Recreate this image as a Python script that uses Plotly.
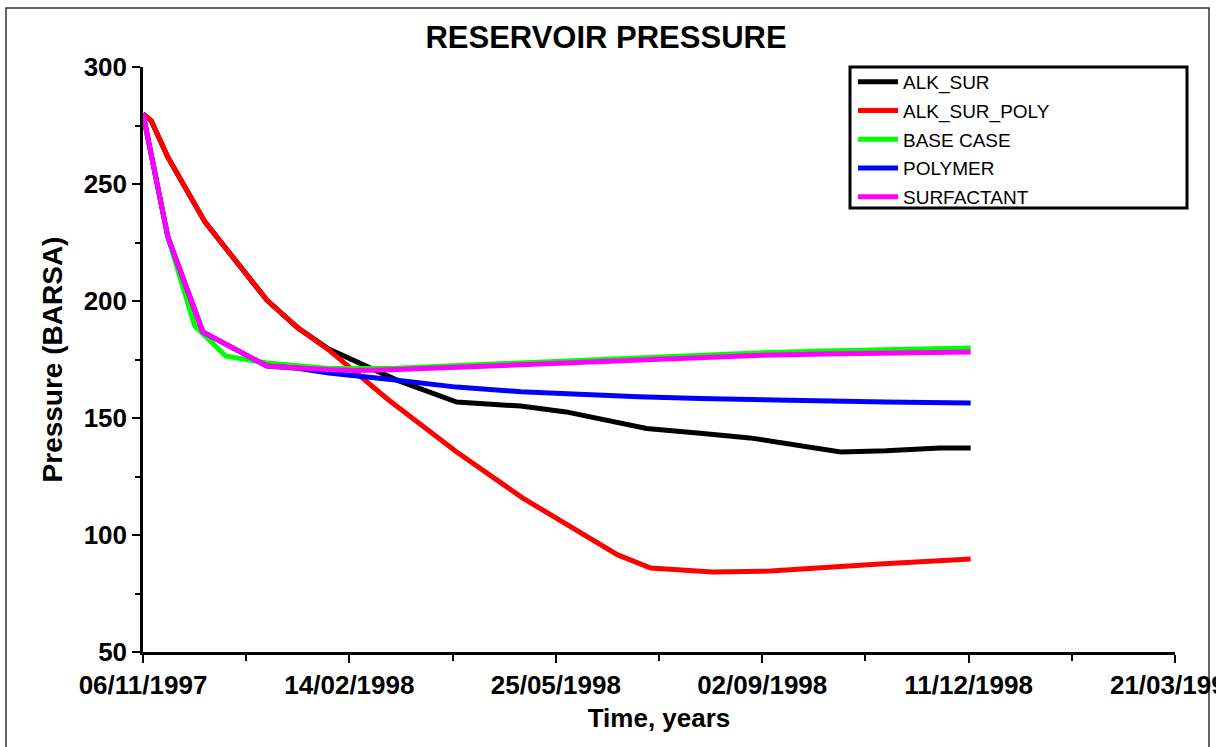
import pandas as pd
import plotly.graph_objects as go

START = "1997-11-06"

# Series: days since 06/11/1997 and pressure (BARSA)
alk_sur_days = [0, 4, 12, 30, 60, 75, 90, 100, 123, 152, 183, 205, 244, 270, 294, 338, 360, 386, 401]
alk_sur_vals = [280, 277, 261.5, 233.8, 200.4, 188.5, 179.5, 175.5, 166.2, 156.8, 155.1, 152.6, 145.5, 143.5, 141.5, 135.5, 136.0, 137.2, 137.2]

alk_sur_poly_days = [0, 4, 12, 30, 60, 75, 90, 119, 152, 184, 230, 246, 276, 304, 357, 401]
alk_sur_poly_vals = [280, 277, 261.5, 233.8, 200.4, 188.5, 179.1, 157.7, 135.5, 115.8, 91.5, 85.9, 84.2, 84.6, 87.6, 89.7]

base_case_days = [0, 12, 25, 40, 60, 90, 120, 150, 180, 210, 240, 270, 300, 330, 360, 390, 401]
base_case_vals = [280, 227.5, 189.5, 176.5, 173.5, 171.2, 171.2, 172.3, 173.5, 174.8, 176.0, 177.0, 177.9, 178.6, 179.2, 179.7, 179.9]

polymer_days = [0, 12, 29, 60, 75, 90, 120, 152, 183, 210, 240, 270, 300, 330, 360, 390, 401]
polymer_vals = [280, 227.5, 186.8, 172.2, 171.3, 169.2, 166.5, 163.2, 161.2, 160.0, 159.1, 158.3, 157.7, 157.2, 156.8, 156.5, 156.4]

surfactant_days = [0, 12, 29, 60, 90, 105, 120, 150, 180, 210, 240, 270, 300, 330, 360, 390, 401]
surfactant_vals = [280, 227.5, 186.8, 172.2, 170.6, 170.3, 170.6, 171.6, 172.8, 174.0, 175.1, 176.0, 176.8, 177.4, 177.8, 178.1, 178.2]

series_names = ["ALK_SUR", "ALK_SUR_POLY", "BASE CASE", "POLYMER", "SURFACTANT"]
series_colors = ["#000000", "#FF0000", "#00FF00", "#0000FF", "#FF00FF"]
series_days = [alk_sur_days, alk_sur_poly_days, base_case_days, polymer_days, surfactant_days]
series_vals = [alk_sur_vals, alk_sur_poly_vals, base_case_vals, polymer_vals, surfactant_vals]

x_range = ["1997-11-06", "1999-03-21"]
y_range = [50, 300]

FONT = "Liberation Sans, Arial, sans-serif"

start = pd.Timestamp(START)
fig = go.Figure()
for name, color, days, vals in zip(series_names, series_colors, series_days, series_vals):
    dates = [start + pd.Timedelta(days=d) for d in days]
    fig.add_trace(go.Scatter(x=dates, y=vals, mode="lines", name=name,
                             legendgroup=name,
                             line=dict(color=color, width=5)))

W, H = 1216, 747
L, R, T, B = 143, 1175, 67, 652
pw, ph = R - L, B - T

def px(x):
    return (x - L) / pw

def py(y):
    return (B - y) / ph

fig.update_layout(
    width=W, height=H,
    margin=dict(l=L, r=W - R, t=T, b=H - B, autoexpand=False),
    paper_bgcolor="white", plot_bgcolor="white",
    title=dict(text="RESERVOIR PRESSURE", x=606 / W, xref="container", xanchor="center",
               y=1 - 37 / H, yref="container", yanchor="middle",
               font=dict(family=FONT, size=31, color="black", weight="bold")),
    showlegend=True,
    legend=dict(x=px(853), y=py(63), xanchor="left", yanchor="top",
                bgcolor="rgba(0,0,0,0)", borderwidth=0,
                font=dict(family=FONT, size=19, color="black"),
                itemwidth=40, traceorder="grouped", tracegroupgap=1),
    xaxis=dict(type="date", range=x_range, tick0=START, dtick=100 * 86400000,
               tickformat="%d/%m/%Y", showgrid=False, zeroline=False,
               showline=True, linecolor="black", linewidth=2.5,
               ticks="outside", ticklen=8, tickwidth=2, tickcolor="black",
               ticklabeloverflow="allow",
               minor=dict(dtick=50 * 86400000, tick0=START, ticks="outside", ticklen=6, tickwidth=2, tickcolor="black", showgrid=False),
               tickfont=dict(family=FONT, size=26, color="black", weight="bold"),
               title=dict(text="Time, years", standoff=10,
                          font=dict(family=FONT, size=26, color="black", weight="bold"))),
    yaxis=dict(range=y_range, dtick=50, tick0=0, showgrid=False, zeroline=False,
               showline=True, linecolor="black", linewidth=2.5,
               ticks="outside", ticklen=8, tickwidth=2, tickcolor="black",
               minor=dict(dtick=25, ticks="outside", ticklen=5, tickwidth=2, tickcolor="black", showgrid=False),
               tickfont=dict(family=FONT, size=26, color="black", weight="bold"),
               title=dict(text="Pressure (BARSA)", standoff=13,
                          font=dict(family=FONT, size=28, color="black", weight="bold"))),
    shapes=[
        dict(type="rect", xref="paper", yref="paper", layer="below",
             x0=px(850), x1=px(1187), y0=py(208), y1=py(67),
             line=dict(color="black", width=3), fillcolor="white"),
        dict(type="rect", xref="paper", yref="paper", layer="below",
             x0=px(6), x1=px(1209), y0=py(8), y1=py(800),
             line=dict(color="#333333", width=1.5), fillcolor="rgba(0,0,0,0)"),
    ],
)

fig.write_html("out.html")
